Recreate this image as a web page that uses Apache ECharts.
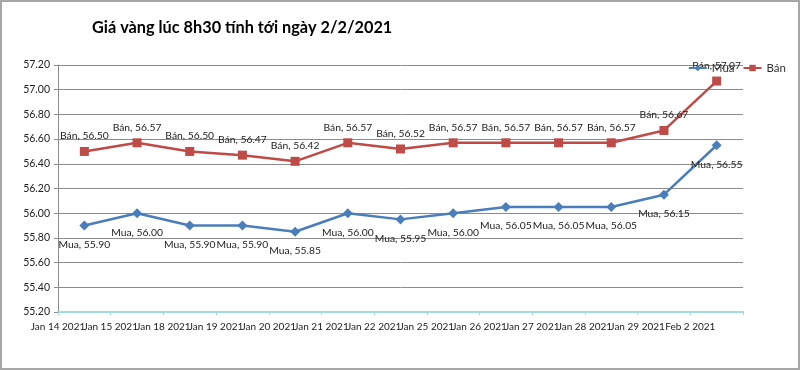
<!DOCTYPE html>
<html>
<head>
<meta charset="utf-8">
<script src="https://cdn.jsdelivr.net/npm/echarts@6/dist/echarts.min.js"></script>
<style>
html,body{margin:0;padding:0;background:#fff;}
#frame{width:800px;height:370px;box-sizing:border-box;border:2px solid #a6a6a6;position:relative;overflow:hidden;}
#chart{position:absolute;left:-2px;top:-2px;width:800px;height:370px;}
</style>
</head>
<body>
<div id="frame"><div id="chart"></div></div>
<script>
const categories = ['Jan 14 2021','Jan 15 2021','Jan 18 2021','Jan 19 2021','Jan 20 2021','Jan 21 2021','Jan 22 2021','Jan 25 2021','Jan 26 2021','Jan 27 2021','Jan 28 2021','Jan 29 2021','Feb 2 2021'];
const muaValues = [55.90,56.00,55.90,55.90,55.85,56.00,55.95,56.00,56.05,56.05,56.05,56.15,56.55];
const banValues = [56.50,56.57,56.50,56.47,56.42,56.57,56.52,56.57,56.57,56.57,56.57,56.67,57.07];
const seriesNames = ['Mua','Bán'];
const titleText = 'Giá vàng lúc 8h30 tính tới ngày 2/2/2021';

const FONT = 'Lato, "Open Sans", sans-serif';
const gridLeft = 58, gridRight = 57;
const catW = (800 - gridLeft - gridRight) / categories.length;

const chart = echarts.init(document.getElementById('chart'), null, {renderer:'canvas'});
const labelFmt = p => p.seriesName + ', ' + p.value.toFixed(2);
chart.setOption({
  animation: false,
  title: {
    text: titleText, left: 87, top: 15,
    textStyle: {fontFamily: FONT, fontSize: 16.3, fontWeight: 'bold', color: '#000'}
  },
  legend: {
    data: seriesNames, right: 9, top: 57, itemWidth: 18, itemHeight: 8, itemGap: 8,
    textStyle: {fontFamily: FONT, fontSize: 11.5, color: '#333'}
  },
  grid: {left: gridLeft, right: gridRight, top: 65, bottom: 58, containLabel: false},
  xAxis: {
    type: 'category', data: categories, boundaryGap: true,
    axisLine: {lineStyle: {color: '#9fdcdc', width: 2}},
    axisTick: {show: true, length: 3, lineStyle: {color: '#9fdcdc'}},
    axisLabel: {
      interval: 0, margin: 10, color: '#222', fontFamily: FONT, fontSize: 10,
      padding: [0, catW, 0, 0]
    },
    splitLine: {show: false}
  },
  yAxis: {
    type: 'value', min: 55.2, max: 57.2, interval: 0.2,
    axisLine: {show: true, lineStyle: {color: '#8c8c8c'}},
    axisTick: {show: true, length: 4, lineStyle: {color: '#8c8c8c'}},
    axisLabel: {formatter: v => v.toFixed(2), color: '#222', fontFamily: FONT, fontSize: 10.5, margin: 8},
    splitLine: {lineStyle: {color: '#8c8c8c', width: 1}}
  },
  series: [
    {
      name: seriesNames[0], type: 'line', data: muaValues,
      symbol: 'diamond', symbolSize: 10,
      lineStyle: {color: '#4a7ebb', width: 2.5},
      itemStyle: {color: '#4a7ebb'},
      label: {show: true, position: 'bottom', distance: 9, formatter: labelFmt,
        color: '#222', fontFamily: FONT, fontSize: 10.3}
    },
    {
      name: seriesNames[1], type: 'line', data: banValues,
      symbol: 'rect', symbolSize: 9,
      lineStyle: {color: '#be4b48', width: 2.5},
      itemStyle: {color: '#be4b48'},
      label: {show: true, position: 'top', distance: 6, formatter: labelFmt,
        color: '#222', fontFamily: FONT, fontSize: 10.3}
    }
  ]
});
</script>
</body>
</html>
